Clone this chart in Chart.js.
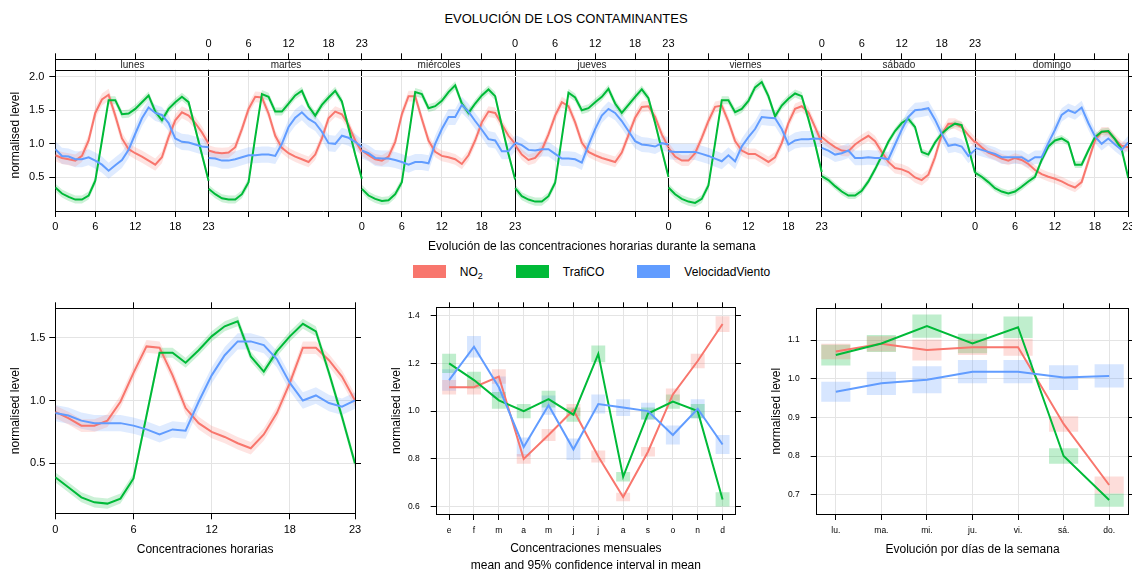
<!DOCTYPE html>
<html>
<head>
  <meta charset="utf-8">
  <title>Evolución de los contaminantes</title>
  <script src="https://cdn.jsdelivr.net/npm/chart.js"></script>
  <style>
    body { margin: 0; background: #fff; font-family: "Liberation Sans", Arial, sans-serif; color: #000; }
    #page { position: relative; width: 1132px; height: 574px; overflow: hidden; }
    #page canvas { position: absolute; }
    #title { position: absolute; left: 0; top: 11px; width: 1132px; text-align: center; font-size: 13px; line-height: 16px; }
    /* shared key under the weekly panel */
    #legend { position: absolute; left: 55px; width: 1073px; top: 265px; display: flex; justify-content: center; font-size: 12px; line-height: 14px; }
    #legend .item { display: flex; align-items: flex-start; margin-right: 33px; }
    #legend .item:last-child { margin-right: 0; }
    #legend .swatch { width: 33px; height: 13px; margin-right: 14px; }
    #legend sub { font-size: 9px; vertical-align: -3px; line-height: 0; }
  </style>
</head>
<body>
<div id="page">
  <div id="title">EVOLUCIÓN DE LOS CONTAMINANTES</div>
  <canvas id="week" width="1132" height="230" style="left:0;top:30px"></canvas>
  <div id="legend"></div>
  <canvas id="hour" width="370" height="279" style="left:0;top:295px"></canvas>
  <canvas id="month" width="375" height="279" style="left:375px;top:295px"></canvas>
  <canvas id="wday" width="377" height="279" style="left:755px;top:295px"></canvas>
</div>

<script>
  // ---- data ----
  const dayNames = ['lunes', 'martes', 'miércoles', 'jueves', 'viernes', 'sábado', 'domingo'];
  const hourTicks = [0, 6, 12, 18, 23];
  const monthLabels = ['e', 'f', 'm', 'a', 'm', 'j', 'j', 'a', 's', 'o', 'n', 'd'];
  const weekdayLabels = ['lu.', 'ma.', 'mi.', 'ju.', 'vi.', 'sá.', 'do.'];

  // normalised hourly level, one row per day (lunes .. domingo), hours 0..23
  const no2ByDay = [
    [0.83, 0.79, 0.77, 0.75, 0.82, 1.05, 1.46, 1.66, 1.73, 1.42, 1.08, 0.92, 0.86, 0.81, 0.75, 0.69, 0.80, 1.10, 1.35, 1.47, 1.42, 1.31, 1.17, 1.00],
    [0.90, 0.87, 0.86, 0.87, 0.95, 1.22, 1.52, 1.70, 1.69, 1.45, 1.12, 0.94, 0.86, 0.81, 0.77, 0.73, 0.84, 1.08, 1.38, 1.48, 1.44, 1.28, 1.05, 0.88],
    [0.90, 0.83, 0.77, 0.75, 0.81, 1.03, 1.44, 1.71, 1.71, 1.37, 1.05, 0.88, 0.82, 0.80, 0.77, 0.70, 0.83, 1.05, 1.32, 1.48, 1.46, 1.29, 1.12, 1.00],
    [0.98, 0.84, 0.76, 0.79, 0.91, 1.14, 1.42, 1.62, 1.56, 1.32, 1.02, 0.88, 0.83, 0.79, 0.76, 0.73, 0.87, 1.13, 1.39, 1.55, 1.56, 1.40, 1.14, 0.95],
    [0.94, 0.81, 0.75, 0.75, 0.86, 1.09, 1.34, 1.55, 1.57, 1.33, 1.04, 0.90, 0.85, 0.85, 0.79, 0.73, 0.80, 1.01, 1.31, 1.52, 1.56, 1.47, 1.25, 1.02],
    [1.10, 1.02, 0.95, 0.90, 0.89, 0.99, 1.06, 1.12, 1.04, 0.88, 0.73, 0.64, 0.62, 0.58, 0.50, 0.46, 0.54, 0.80, 1.14, 1.30, 1.30, 1.25, 1.13, 1.02],
    [1.04, 0.95, 0.87, 0.83, 0.78, 0.75, 0.79, 0.76, 0.70, 0.61, 0.55, 0.51, 0.48, 0.44, 0.39, 0.35, 0.43, 0.74, 1.05, 1.18, 1.18, 1.07, 0.97, 0.95]
  ];
  const coByDay = [
    [0.35, 0.26, 0.21, 0.17, 0.17, 0.23, 0.45, 1.05, 1.65, 1.65, 1.44, 1.45, 1.52, 1.62, 1.72, 1.48, 1.35, 1.52, 1.62, 1.70, 1.62, 1.23, 0.84, 0.45],
    [0.33, 0.25, 0.19, 0.17, 0.17, 0.25, 0.43, 1.10, 1.74, 1.70, 1.48, 1.48, 1.60, 1.72, 1.79, 1.56, 1.42, 1.58, 1.69, 1.79, 1.63, 1.24, 0.84, 0.48],
    [0.33, 0.23, 0.18, 0.15, 0.16, 0.25, 0.43, 1.10, 1.77, 1.74, 1.53, 1.56, 1.64, 1.77, 1.87, 1.60, 1.46, 1.60, 1.72, 1.81, 1.71, 1.27, 0.85, 0.47],
    [0.34, 0.22, 0.17, 0.14, 0.14, 0.22, 0.42, 1.09, 1.76, 1.69, 1.50, 1.53, 1.62, 1.70, 1.82, 1.60, 1.46, 1.58, 1.70, 1.81, 1.68, 1.31, 0.91, 0.51],
    [0.35, 0.25, 0.18, 0.14, 0.12, 0.18, 0.38, 1.01, 1.65, 1.65, 1.47, 1.52, 1.64, 1.84, 1.92, 1.71, 1.41, 1.57, 1.67, 1.75, 1.71, 1.37, 1.00, 0.58],
    [0.52, 0.46, 0.37, 0.29, 0.23, 0.23, 0.30, 0.44, 0.62, 0.82, 1.03, 1.19, 1.31, 1.37, 1.25, 0.88, 0.84, 1.02, 1.15, 1.24, 1.30, 1.28, 0.95, 0.57],
    [0.57, 0.51, 0.43, 0.34, 0.29, 0.26, 0.29, 0.36, 0.44, 0.51, 0.76, 0.96, 1.05, 1.08, 1.02, 0.69, 0.69, 0.90, 1.10, 1.18, 1.19, 1.07, 0.92, 0.49]
  ];
  const windByDay = [
    [0.92, 0.82, 0.81, 0.77, 0.77, 0.80, 0.75, 0.69, 0.60, 0.68, 0.76, 0.91, 1.15, 1.38, 1.54, 1.46, 1.43, 1.31, 1.08, 1.03, 1.02, 0.99, 0.96, 0.95],
    [0.79, 0.78, 0.75, 0.75, 0.77, 0.80, 0.83, 0.83, 0.84, 0.84, 0.82, 1.00, 1.25, 1.39, 1.47, 1.37, 1.31, 1.18, 1.01, 1.00, 1.12, 1.09, 1.03, 0.95],
    [0.90, 0.86, 0.79, 0.78, 0.78, 0.76, 0.73, 0.69, 0.73, 0.73, 0.71, 1.00, 1.22, 1.40, 1.40, 1.58, 1.48, 1.34, 1.21, 1.07, 1.05, 0.89, 0.89, 1.01],
    [1.02, 0.98, 0.91, 0.90, 0.92, 0.92, 0.85, 0.78, 0.78, 0.77, 0.72, 0.98, 1.22, 1.42, 1.52, 1.46, 1.34, 1.19, 1.04, 0.99, 0.98, 0.96, 1.01, 0.99],
    [0.89, 0.88, 0.88, 0.88, 0.88, 0.85, 0.82, 0.78, 0.74, 0.83, 0.74, 0.96, 1.10, 1.22, 1.40, 1.39, 1.38, 1.22, 0.99, 1.05, 1.07, 1.07, 1.08, 1.07],
    [0.94, 0.90, 0.84, 0.86, 0.90, 0.79, 0.79, 0.80, 0.79, 0.79, 0.77, 0.99, 1.21, 1.40, 1.50, 1.51, 1.53, 1.36, 1.15, 0.97, 0.99, 0.96, 0.82, 0.91],
    [0.94, 0.91, 0.88, 0.85, 0.80, 0.80, 0.80, 0.80, 0.74, 0.80, 0.80, 1.01, 1.21, 1.43, 1.50, 1.46, 1.54, 1.31, 1.11, 1.00, 1.08, 0.99, 0.91, 1.02]
  ];
  // half width of the 95% interval for each day
  const no2DayBand = [0.09, 0.08, 0.08, 0.08, 0.08, 0.08, 0.07];
  const coDayBand = [0.06, 0.06, 0.06, 0.06, 0.06, 0.05, 0.05];
  const windDayBand = [0.12, 0.12, 0.12, 0.11, 0.12, 0.11, 0.10];

  // all-days hourly profile
  const no2Hour = [0.91, 0.86, 0.80, 0.80, 0.84, 0.99, 1.22, 1.43, 1.42, 1.20, 0.94, 0.82, 0.75, 0.71, 0.66, 0.62, 0.73, 0.90, 1.14, 1.42, 1.42, 1.32, 1.19, 1.00];
  const coHour = [0.39, 0.31, 0.23, 0.19, 0.18, 0.22, 0.38, 0.88, 1.38, 1.38, 1.30, 1.40, 1.51, 1.59, 1.63, 1.35, 1.23, 1.39, 1.51, 1.61, 1.55, 1.22, 0.87, 0.50];
  const windHour = [0.90, 0.88, 0.84, 0.82, 0.82, 0.82, 0.80, 0.77, 0.73, 0.77, 0.76, 0.99, 1.20, 1.36, 1.47, 1.47, 1.44, 1.33, 1.14, 1.00, 1.04, 0.98, 0.95, 1.00];
  const no2HourBand = 0.05;
  const coHourBand = 0.04;
  const windHourBand = 0.065;

  // monthly means and interval half widths
  const no2Month = [1.10, 1.10, 1.145, 0.80, 0.90, 1.005, 0.81, 0.64, 0.83, 1.07, 1.21, 1.365];
  const coMonth = [1.20, 1.13, 1.045, 1.00, 1.05, 0.985, 1.24, 0.725, 0.99, 1.04, 1.00, 0.63];
  const windMonth = [1.13, 1.27, 1.10, 0.85, 1.025, 0.84, 1.03, 1.015, 1.00, 0.90, 1.01, 0.86];
  const no2MonthCI = [0.03, 0.03, 0.03, 0.02, 0.025, 0.025, 0.025, 0.018, 0.02, 0.025, 0.03, 0.033];
  const coMonthCI = [0.04, 0.035, 0.035, 0.03, 0.035, 0.03, 0.035, 0.02, 0.025, 0.03, 0.03, 0.03];
  const windMonthCI = [0.045, 0.045, 0.045, 0.04, 0.04, 0.045, 0.04, 0.035, 0.035, 0.04, 0.04, 0.04];

  // day-of-week means and interval half widths
  const no2Wday = [1.07, 1.09, 1.074, 1.081, 1.081, 0.883, 0.725];
  const coWday = [1.061, 1.091, 1.136, 1.091, 1.133, 0.80, 0.686];
  const windWday = [0.966, 0.988, 0.997, 1.018, 1.018, 1.003, 1.007];
  const no2WdayCI = [0.02, 0.02, 0.027, 0.02, 0.022, 0.02, 0.022];
  const coWdayCI = [0.027, 0.022, 0.03, 0.025, 0.028, 0.02, 0.017];
  const windWdayCI = [0.026, 0.03, 0.035, 0.03, 0.03, 0.032, 0.03];

  const series = [
    { name: 'NO<sub>2</sub>', color: '#F8766D', week: no2ByDay, weekBand: no2DayBand, hour: no2Hour, hourBand: no2HourBand,
      month: no2Month, monthCI: no2MonthCI, wday: no2Wday, wdayCI: no2WdayCI },
    { name: 'TrafiCO', color: '#00BA38', week: coByDay, weekBand: coDayBand, hour: coHour, hourBand: coHourBand,
      month: coMonth, monthCI: coMonthCI, wday: coWday, wdayCI: coWdayCI },
    { name: 'VelocidadViento', color: '#619CFF', week: windByDay, weekBand: windDayBand, hour: windHour, hourBand: windHourBand,
      month: windMonth, monthCI: windMonthCI, wday: windWday, wdayCI: windWdayCI }
  ];

  // ---- helpers ----
  const GRID = '#e4e4e4';
  const HOURS = 23;

  function rgba(hex, a) {
    const n = parseInt(hex.slice(1), 16);
    return `rgba(${n >> 16}, ${(n >> 8) & 255}, ${n & 255}, ${a})`;
  }

  // pin an axis to a given thickness and stop edge labels from shrinking the plot
  function fixedSize(px) {
    return sc => {
      if (sc.isHorizontal()) sc.height = px; else sc.width = px;
      sc.paddingLeft = sc.paddingRight = sc.paddingTop = sc.paddingBottom = 0;
    };
  }

  function setTicks(values) {
    return sc => { sc.ticks = values.map(v => ({ value: v })); };
  }

  // axis on the opposite side: tick marks only
  function markAxis(position, min, max, values, size, tickLength) {
    return {
      type: 'linear', position, min, max, offset: false,
      afterBuildTicks: setTicks(values),
      afterFit: fixedSize(size),
      ticks: { autoSkip: false, maxRotation: 0, callback: () => '' },
      grid: { drawOnChartArea: false, tickLength, tickColor: '#000' },
      border: { color: '#000' }
    };
  }

  function bandSets(points, half, color) {
    return [
      { data: points.map(p => ({ x: p.x, y: p.y - half })), borderWidth: 0, pointRadius: 0, fill: false, order: 10 },
      { data: points.map(p => ({ x: p.x, y: p.y + half })), borderWidth: 0, pointRadius: 0, fill: '-1',
        backgroundColor: rgba(color, 0.2), order: 10 }
    ];
  }

  function lineSet(points, color, order) {
    return { data: points, borderColor: color, borderWidth: 2, pointRadius: 0, fill: false, tension: 0, order };
  }

  function boxSet(values, ci, color, width) {
    return {
      type: 'bar', data: values.map((v, i) => ({ x: i, y: [v - ci[i], v + ci[i]] })),
      backgroundColor: rgba(color, 0.25), borderWidth: 0, grouped: false,
      categoryPercentage: 1, barPercentage: width, order: 10
    };
  }

  const common = {
    responsive: false,
    animation: false,
    devicePixelRatio: 1,
    events: [],
    layout: { padding: 0, autoPadding: false },
    plugins: { legend: { display: false }, tooltip: { enabled: false } }
  };

  Chart.defaults.font.family = '"Liberation Sans", Arial, sans-serif';
  Chart.defaults.color = '#000';

  const yTitle = pad => ({ display: true, text: 'normalised level', font: { size: 12 }, color: '#000', padding: { top: pad, bottom: 0 } });

  // ---- weekly panel: one strip per day ----
  const weekMax = dayNames.length * HOURS;
  const weekTicks = [];
  dayNames.forEach((_, d) => [0, 6, 12, 18].forEach(h => weekTicks.push(d * HOURS + h)));
  weekTicks.push(weekMax);

  // labels alternate: bottom for lunes, miércoles, viernes, domingo; top for the rest
  function weekLabel(v, side) {
    const k = v / HOURS;
    if (Number.isInteger(k)) {
      if (k % 2 === side && k < dayNames.length) return '0';
      if (k >= 1 && (k - 1) % 2 === side) return '23';
      return '';
    }
    const d = Math.floor(k);
    return d % 2 === side ? String(v - d * HOURS) : '';
  }

  const weekSets = [];
  series.forEach(s => s.week.forEach((vals, d) => {
    const pts = vals.map((v, h) => ({ x: d * HOURS + h, y: v }));
    weekSets.push(...bandSets(pts, s.weekBand[d], s.color));
  }));
  series.forEach((s, si) => s.week.forEach((vals, d) => {
    weekSets.push(lineSet(vals.map((v, h) => ({ x: d * HOURS + h, y: v })), s.color, 3 - si));
  }));

  const dayStrips = {
    id: 'dayStrips',
    afterDatasetsDraw(chart) {
      const { ctx, chartArea, scales: { x } } = chart;
      const top = chartArea.top, bottom = top + 10.4;
      ctx.save();
      dayNames.forEach((name, d) => {
        const l = Math.round(x.getPixelForValue(d * HOURS)) + 1;
        const r = Math.round(x.getPixelForValue((d + 1) * HOURS));
        ctx.fillStyle = '#fff';
        ctx.fillRect(l, top + 1, r - l, bottom - top - 1);
        ctx.fillStyle = '#222';
        ctx.font = '10px "Liberation Sans", Arial, sans-serif';
        ctx.textAlign = 'center';
        ctx.textBaseline = 'middle';
        ctx.fillText(name, (l + r) / 2, (top + bottom) / 2 + 0.5);
      });
      ctx.strokeStyle = '#000';
      ctx.lineWidth = 1;
      ctx.beginPath();
      ctx.moveTo(chartArea.left, Math.round(bottom) + 0.5);
      ctx.lineTo(chartArea.right, Math.round(bottom) + 0.5);
      ctx.stroke();
      ctx.restore();
    }
  };

  const weekY = { min: 0, max: 2.2585, ticks: [0.5, 1.0, 1.5, 2.0] };

  new Chart(document.getElementById('week'), {
    type: 'line',
    data: { datasets: weekSets },
    options: {
      ...common,
      scales: {
        x: {
          type: 'linear', position: 'bottom', min: 0, max: weekMax,
          afterBuildTicks: setTicks(weekTicks),
          afterFit: fixedSize(49),
          ticks: { autoSkip: false, maxRotation: 0, padding: 3, font: { size: 11 }, callback: v => weekLabel(v, 0) },
          grid: { color: c => (c.tick && c.tick.value % HOURS === 0) ? '#000' : GRID, tickColor: '#000', tickLength: 6 },
          border: { color: '#000' },
          title: { display: true, text: 'Evolución de las concentraciones horarias durante la semana',
                   font: { size: 12 }, color: '#000', padding: { top: 0, bottom: 6 } }
        },
        x2: {
          type: 'linear', position: 'top', min: 0, max: weekMax,
          afterBuildTicks: setTicks(weekTicks),
          afterFit: fixedSize(29.3),
          ticks: { autoSkip: false, maxRotation: 0, padding: 3, font: { size: 11 }, callback: v => weekLabel(v, 1) },
          grid: { drawOnChartArea: false, tickColor: '#000', tickLength: 6 },
          border: { color: '#000' }
        },
        y: {
          type: 'linear', position: 'left', min: weekY.min, max: weekY.max,
          afterBuildTicks: setTicks(weekY.ticks),
          afterFit: fixedSize(55.3),
          ticks: { padding: 5, font: { size: 11 }, callback: v => v.toFixed(1) },
          grid: { color: GRID, tickColor: '#000', tickLength: 6 },
          border: { color: '#000' },
          title: yTitle(8)
        },
        y2: markAxis('right', weekY.min, weekY.max, weekY.ticks, 3.7, 4)
      }
    },
    plugins: [dayStrips]
  });

  // ---- key ----
  document.getElementById('legend').innerHTML = series.map(s =>
    `<div class="item"><div class="swatch" style="background:${s.color}"></div><div>${s.name}</div></div>`).join('');

  // ---- hour of day ----
  const hourY = { min: 0.103, max: 1.733, ticks: [0.5, 1.0, 1.5] };
  const hourSets = [];
  series.forEach(s => hourSets.push(...bandSets(s.hour.map((v, h) => ({ x: h, y: v })), s.hourBand, s.color)));
  series.forEach((s, si) => hourSets.push(lineSet(s.hour.map((v, h) => ({ x: h, y: v })), s.color, 3 - si)));

  new Chart(document.getElementById('hour'), {
    type: 'line',
    data: { datasets: hourSets },
    options: {
      ...common,
      scales: {
        x: {
          type: 'linear', position: 'bottom', min: 0, max: 23,
          afterBuildTicks: setTicks(hourTicks),
          afterFit: fixedSize(60.7),
          ticks: { autoSkip: false, maxRotation: 0, padding: 4, font: { size: 11 }, callback: v => String(v) },
          grid: { color: GRID, tickColor: '#000', tickLength: 6 },
          border: { color: '#000' },
          title: { display: true, text: 'Concentraciones horarias', font: { size: 12 }, color: '#000', padding: { top: 0, bottom: 17.5 } }
        },
        x2: markAxis('top', 0, 23, hourTicks, 13.3, 6),
        y: {
          type: 'linear', position: 'left', min: hourY.min, max: hourY.max,
          afterBuildTicks: setTicks(hourY.ticks),
          afterFit: fixedSize(55.3),
          ticks: { padding: 4, font: { size: 11 }, callback: v => v.toFixed(1) },
          grid: { color: GRID, tickColor: '#000', tickLength: 6 },
          border: { color: '#000' },
          title: yTitle(8)
        },
        y2: markAxis('right', hourY.min, hourY.max, hourY.ticks, 15, 6)
      }
    }
  });

  // ---- month ----
  const monthIdx = monthLabels.map((_, i) => i);
  const monthY = { min: 0.569, max: 1.435, ticks: [0.6, 0.8, 1.0, 1.2, 1.4] };
  const monthSets = [];
  series.forEach(s => monthSets.push(boxSet(s.month, s.monthCI, s.color, 0.56)));
  series.forEach((s, si) => monthSets.push(lineSet(s.month.map((v, i) => ({ x: i, y: v })), s.color, 3 - si)));

  new Chart(document.getElementById('month'), {
    type: 'line',
    data: { datasets: monthSets },
    options: {
      ...common,
      scales: {
        x: {
          type: 'linear', position: 'bottom', min: -0.5, max: 11.5, offset: false,
          afterBuildTicks: setTicks(monthIdx),
          afterFit: fixedSize(60),
          ticks: { autoSkip: false, maxRotation: 0, padding: 6, font: { size: 8.5 }, callback: v => monthLabels[v] },
          grid: { color: GRID, tickColor: '#000', tickLength: 6, offset: false },
          border: { color: '#000' },
          title: { display: true, text: ['Concentraciones mensuales', 'mean and 95% confidence interval in mean'],
                   font: { size: 12, lineHeight: 1.4 }, color: '#000', padding: { top: 0, bottom: 0 } }
        },
        x2: markAxis('top', -0.5, 11.5, monthIdx, 12.3, 5),
        y: {
          type: 'linear', position: 'left', min: monthY.min, max: monthY.max,
          afterBuildTicks: setTicks(monthY.ticks),
          afterFit: fixedSize(61.7),
          ticks: { padding: 11, font: { size: 8.5 }, callback: v => v.toFixed(1) },
          grid: { color: GRID, tickColor: '#000', tickLength: 6 },
          border: { color: '#000' },
          title: yTitle(14)
        },
        y2: markAxis('right', monthY.min, monthY.max, monthY.ticks, 15, 6)
      }
    }
  });

  // ---- day of week ----
  const wdayIdx = weekdayLabels.map((_, i) => i);
  const wdayY = { min: 0.65, max: 1.182, ticks: [0.7, 0.8, 0.9, 1.0, 1.1] };
  const wdaySets = [];
  series.forEach(s => wdaySets.push(boxSet(s.wday, s.wdayCI, s.color, 0.64)));
  series.forEach((s, si) => wdaySets.push(lineSet(s.wday.map((v, i) => ({ x: i, y: v })), s.color, 3 - si)));

  new Chart(document.getElementById('wday'), {
    type: 'line',
    data: { datasets: wdaySets },
    options: {
      ...common,
      scales: {
        x: {
          type: 'linear', position: 'bottom', min: -0.42, max: 6.42, offset: false,
          afterBuildTicks: setTicks(wdayIdx),
          afterFit: fixedSize(60),
          ticks: { autoSkip: false, maxRotation: 0, padding: 6, font: { size: 8.5 }, callback: v => weekdayLabels[v] },
          grid: { color: GRID, tickColor: '#000', tickLength: 6, offset: false },
          border: { color: '#000' },
          title: { display: true, text: 'Evolución por días de la semana', font: { size: 12 }, color: '#000', padding: { top: 0, bottom: 17.5 } }
        },
        x2: markAxis('top', -0.42, 6.42, wdayIdx, 13.3, 5),
        y: {
          type: 'linear', position: 'left', min: wdayY.min, max: wdayY.max,
          afterBuildTicks: setTicks(wdayY.ticks),
          afterFit: fixedSize(61.7),
          ticks: { padding: 11, font: { size: 8.5 }, callback: v => v.toFixed(1) },
          grid: { color: GRID, tickColor: '#000', tickLength: 6 },
          border: { color: '#000' },
          title: yTitle(14)
        },
        y2: markAxis('right', wdayY.min, wdayY.max, wdayY.ticks, 3.7, 6)
      }
    }
  });
</script>
</body>
</html>
